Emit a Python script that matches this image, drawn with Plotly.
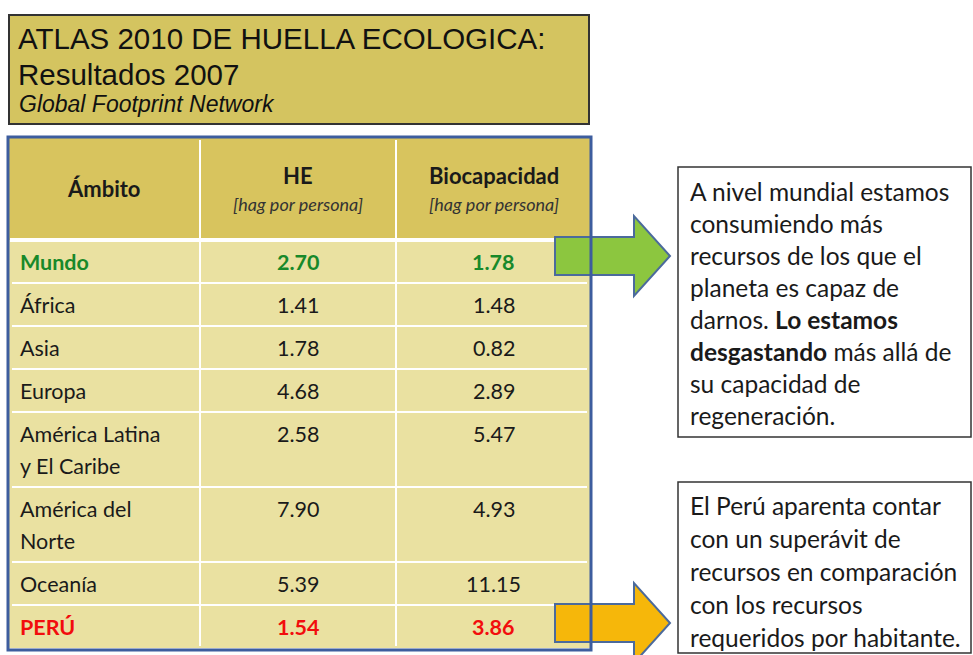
import plotly.graph_objects as go

# ---------------- data ----------------
title_lines = ["ATLAS 2010 DE HUELLA ECOLOGICA:", "Resultados 2007"]
subtitle = "Global Footprint Network"
headers = ["Ámbito", "HE", "Biocapacidad"]
unit_label = "[hag por persona]"
ambito = [["Mundo"], ["África"], ["Asia"], ["Europa"],
          ["América Latina", "y El Caribe"], ["América del", "Norte"],
          ["Oceanía"], ["PERÚ"]]
he = [2.70, 1.41, 1.78, 4.68, 2.58, 7.90, 5.39, 1.54]
bio = [1.78, 1.48, 0.82, 2.89, 5.47, 4.93, 11.15, 3.86]
note1 = ["A nivel mundial estamos", "consumiendo más", "recursos de los que el",
         "planeta es capaz de", "darnos. <b>Lo estamos</b>",
         "<b>desgastando</b> más allá de", "su capacidad de", "regeneración."]
note2 = ["El Perú aparenta contar", "con un superávit de",
         "recursos en comparación", "con los recursos",
         "requeridos por habitante."]

# ---------------- styles ----------------
W, H = 973, 655
CAL = "Lato, 'Noto Sans', sans-serif"
TITLE_FONT = "'Liberation Sans', Arial, sans-serif"
highlight = {"Mundo": "#18892a", "PERÚ": "#f20d0d"}
arrow_for = {"Mundo": ("#8cc63f", 0), "PERÚ": ("#f6b70a", 1)}
col_x = [8, 200, 396, 591]
header_top, header_bot = 138, 240
line_h = 32
BODY_SIZE = 21.5
NOTE_SIZE = 24.5

shapes = []
annots = []


def text(x, y, s, size, color="#1a1a1a", family=CAL, xanchor="left", bold=False, italic=False):
    if bold:
        s = f"<b>{s}</b>"
    if italic:
        s = f"<i>{s}</i>"
    annots.append(dict(x=x, y=y, xref="x", yref="y", text=s, showarrow=False,
                       xanchor=xanchor, yanchor="middle",
                       font=dict(family=family, size=size, color=color)))


# title box
shapes.append(dict(type="rect", x0=9, x1=589, y0=15, y1=124, xref="x", yref="y",
                   fillcolor="#d4c460", line=dict(color="#333333", width=2)))
for i, t in enumerate(title_lines):
    text(16, 38 + i * 36, t, 29.5, color="#111111", family=TITLE_FONT)
text(17, 104, subtitle, 23, color="#111111", family=TITLE_FONT, italic=True)

# header
shapes.append(dict(type="rect", x0=col_x[0], x1=col_x[3], y0=header_top, y1=header_bot,
                   xref="x", yref="y", fillcolor="#d8c45e", line=dict(width=0)))
centers = [(col_x[i] + col_x[i + 1]) / 2 for i in range(3)]
text(centers[0], 188, headers[0], 22, xanchor="center", bold=True)
for c in (1, 2):
    text(centers[c], 175, headers[c], 22, xanchor="center", bold=True)
    text(centers[c], 204, unit_label, 18, color="#333333", xanchor="center", italic=True)

# body rows
row_tops = []
y = header_bot
for lines in ambito:
    row_tops.append(y)
    y += 11 + line_h * len(lines)
table_bot = y
shapes.append(dict(type="rect", x0=col_x[0], x1=col_x[3], y0=header_bot, y1=table_bot,
                   xref="x", yref="y", fillcolor="#eae1a1", line=dict(width=0)))

for i, lines in enumerate(ambito):
    top = row_tops[i]
    name = lines[0]
    color = highlight.get(name, "#1a1a1a")
    bold = name in highlight
    for k, ln in enumerate(lines):
        text(18, top + 22 + k * line_h, ln, BODY_SIZE, color=color, bold=bold)
    text(centers[1], top + 22, f"{he[i]:.2f}", BODY_SIZE, color=color, xanchor="center", bold=bold)
    text(centers[2], top + 22, f"{bio[i]:.2f}", BODY_SIZE, color=color, xanchor="center", bold=bold)
    if i > 0:
        shapes.append(dict(type="line", x0=col_x[0] + 4, x1=col_x[3] - 4, y0=top, y1=top,
                           xref="x", yref="y", line=dict(color="white", width=2)))

# header/body separator and column separators
shapes.append(dict(type="line", x0=col_x[0] + 2, x1=col_x[3] - 2, y0=header_bot, y1=header_bot,
                   xref="x", yref="y", line=dict(color="white", width=4)))
for cx in col_x[1:3]:
    shapes.append(dict(type="line", x0=cx, x1=cx, y0=header_top + 2, y1=table_bot - 2,
                       xref="x", yref="y", line=dict(color="white", width=2)))

# arrows (anchored to the highlighted rows)
for i, lines in enumerate(ambito):
    if lines[0] not in arrow_for:
        continue
    fill, kind = arrow_for[lines[0]]
    cy = row_tops[i] + 16 if kind == 0 else row_tops[i] + 18
    x0, xb, xt = 555, 634, 670
    hs, hh = 19, 40
    path = (f"M{x0},{cy - hs} L{xb},{cy - hs} L{xb},{cy - hh} L{xt},{cy} "
            f"L{xb},{cy + hh} L{xb},{cy + hs} L{x0},{cy + hs} Z")
    shapes.append(dict(type="path", path=path, xref="x", yref="y", fillcolor=fill,
                       line=dict(color="#4b6a9c", width=2)))

# table border
shapes.append(dict(type="rect", x0=col_x[0], x1=col_x[3], y0=header_top - 1, y1=table_bot + 2,
                   xref="x", yref="y", fillcolor="rgba(0,0,0,0)",
                   line=dict(color="#3d5d9e", width=3)))

# note boxes
for lines, (top, bot, first, sp) in ((note1, (167, 437, 191, 32.1)),
                                     (note2, (482, 653, 505, 33.2))):
    shapes.append(dict(type="rect", x0=678, x1=971, y0=top, y1=bot, xref="x", yref="y",
                       fillcolor="white", line=dict(color="#333333", width=1.5)))
    for k, ln in enumerate(lines):
        text(688, first + k * sp, ln, NOTE_SIZE, color="#1a1a1a")

fig = go.Figure()
fig.update_layout(
    width=W, height=H, margin=dict(l=0, r=0, t=0, b=0),
    paper_bgcolor="white", plot_bgcolor="white",
    xaxis=dict(range=[0, W], visible=False, fixedrange=True),
    yaxis=dict(range=[H, 0], visible=False, fixedrange=True),
    shapes=shapes, annotations=annots, showlegend=False,
)
fig.write_html("out.html", config={"displayModeBar": False},
               post_script="document.body.style.margin='0';document.body.style.overflow='hidden';")
